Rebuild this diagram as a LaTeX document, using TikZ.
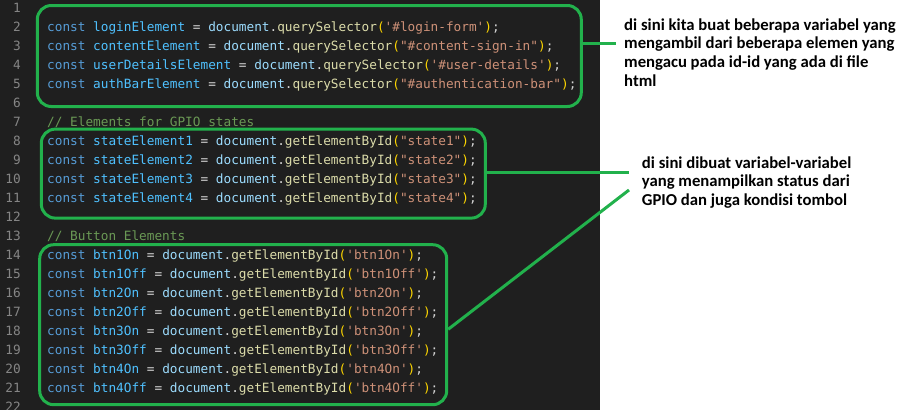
\documentclass[tikz,border=0pt]{standalone}
\usepackage{fontspec}
\newfontfamily\codefont{DejaVu Sans Mono}
\newfontfamily\notefont{Carlito}

\definecolor{editorbg}{HTML}{1F1F1F}
\definecolor{plain}{HTML}{D4D4D4}
\definecolor{linegrey}{HTML}{858585}
\definecolor{kwblue}{HTML}{569CD6}
\definecolor{constblue}{HTML}{4FC1FF}
\definecolor{objblue}{HTML}{9CDCFE}
\definecolor{fnyellow}{HTML}{DCDCAA}
\definecolor{strorange}{HTML}{CE9178}
\definecolor{bracketgold}{HTML}{FFD700}
\definecolor{commentgreen}{HTML}{6A9955}
\definecolor{boxgreen}{HTML}{22B14C}

\newcommand\ckw[1]{\textcolor{kwblue}{#1}}
\newcommand\cvar[1]{\textcolor{constblue}{#1}}
\newcommand\cobj[1]{\textcolor{objblue}{#1}}
\newcommand\cfn[1]{\textcolor{fnyellow}{#1}}
\newcommand\cstr[1]{\textcolor{strorange}{#1}}
\newcommand\cpar[1]{\textcolor{bracketgold}{#1}}
% const <name> = document.<fn>(<string>);
\newcommand\jsline[3]{\ckw{const} \cvar{#1} = \cobj{document}.\cfn{#2}\cpar{(}\cstr{#3}\cpar{)};}

\begin{document}
\begin{tikzpicture}[x=1pt,y=-1pt,
    codeline/.style={anchor=base west,inner sep=0,text=plain,font=\codefont\fontsize{12.74}{15}\selectfont},
    lineno/.style={anchor=base east,inner sep=0,text=linegrey,font=\codefont\fontsize{12.74}{15}\selectfont},
    codebox/.style={draw=boxgreen,line width=3pt,rounded corners=14pt,inner sep=0},
    link/.style={draw=boxgreen,line width=3pt},
    note/.style={anchor=north west,inner sep=0,align=left,text=black,font=\notefont\bfseries\fontsize{16.7}{18.7}\selectfont}]
  \useasboundingbox (0,0) rectangle (914,410);
  \fill[white] (0,0) rectangle (914,410);
  \fill[editorbg] (0,0) rectangle (600,410);

  \foreach \i in {1,...,22}{
    \node[lineno] (n\i) at (21,{12.5+19*(\i-1)}) {\i};
  }

  \node[codeline] (login) at (47,31.5) {\jsline{loginElement}{querySelector}{'\#login-form'}};
  \node[codeline] (content) at (47,50.5) {\jsline{contentElement}{querySelector}{"\#content-sign-in"}};
  \node[codeline] (user) at (47,69.5) {\jsline{userDetailsElement}{querySelector}{'\#user-details'}};
  \node[codeline] (authbar) at (47,88.5) {\jsline{authBarElement}{querySelector}{"\#authentication-bar"}};

  \node[codeline,text=commentgreen] (gpiocomment) at (47,126.5) {// Elements for GPIO states};
  \foreach \k [count=\i from 8] in {1,2,3,4}{
    \node[codeline] (state\k) at (47,{12.5+19*(\i-1)}) {\jsline{stateElement\k}{getElementById}{"state\k"}};
  }

  \node[codeline,text=commentgreen] (btncomment) at (47,240.5) {// Button Elements};
  \foreach \k [count=\i from 14] in {1On,1Off,2On,2Off,3On,3Off,4On,4Off}{
    \node[codeline] (btn\k) at (47,{12.5+19*(\i-1)}) {\jsline{btn\k}{getElementById}{'btn\k'}};
  }

  \node[codebox,minimum width=544,minimum height=101] (box1) at (309.3,56) {};
  \node[codebox,minimum width=444,minimum height=89] (box2) at (263.3,173.6) {};
  \node[codebox,minimum width=407,minimum height=160] (box3) at (243.2,324.7) {};

  \node[note] (note1) at (624,18.3) {di sini kita buat beberapa variabel yang\\mengambil dari beberapa elemen yang\\mengacu pada id-id yang ada di file\\html};
  \node[note] (note2) at (641.7,156.3) {di sini dibuat variabel-variabel\\yang menampilkan status dari\\GPIO dan juga kondisi tombol};

  \coordinate (tip1) at (616,43.3);
  \coordinate (tip2) at (629,172.3);
  \coordinate (tip3) at (629,190);
  \draw[link] (box1.east |- tip1) -- (tip1);
  \draw[link] (box2.east |- tip2) -- (tip2);
  \draw[link] ([yshift=-4.6pt]box3.east) -- (tip3);
\end{tikzpicture}
\end{document}
